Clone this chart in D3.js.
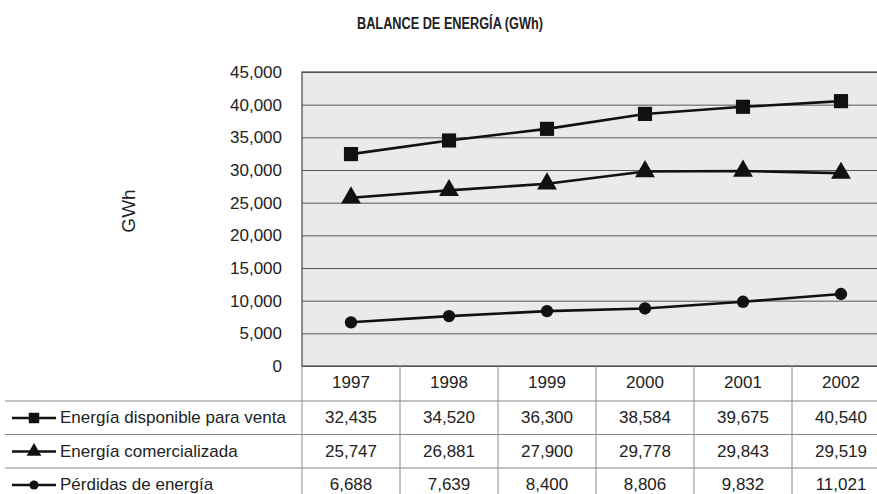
<!DOCTYPE html>
<html>
<head>
<meta charset="utf-8">
<script src="https://cdn.jsdelivr.net/npm/d3@7"></script>
<style>
  body { margin: 0; background: #fff; }
  svg text { font-family: "Liberation Sans", Arial, sans-serif; fill: #222; }
</style>
</head>
<body>
<div id="chart"></div>
<script>
var years = ["1997", "1998", "1999", "2000", "2001", "2002"];
var disponible = [32435, 34520, 36300, 38584, 39675, 40540];
var comercializada = [25747, 26881, 27900, 29778, 29843, 29519];
var perdidas = [6688, 7639, 8400, 8806, 9832, 11021];
var seriesNames = ["Energía disponible para venta", "Energía comercializada", "Pérdidas de energía"];
var yTicks = [0, 5000, 10000, 15000, 20000, 25000, 30000, 35000, 40000, 45000];

var width = 877, height = 494;
var margin = {left: 302, right: -13, top: 72, bottom: 128};
var rowH = 33.5;

var svg = d3.select("#chart")
    .append("svg")
    .attr("width", width)
    .attr("height", height);

var x = d3.scaleBand()
    .domain(years)
    .range([margin.left, width - margin.right])
    .padding(0);

var y = d3.scaleLinear()
    .domain([0, 45000])
    .range([height - margin.bottom, margin.top]);

var fmt = d3.format(",");

// plot background
svg.append("rect")
    .attr("x", margin.left)
    .attr("y", y(45000))
    .attr("width", x.range()[1] - margin.left)
    .attr("height", y(0) - y(45000))
    .attr("fill", "#eaeaea")
    .attr("stroke", "#444")
    .attr("stroke-width", 1.2);

// y axis with grid lines
var yAxis = svg.append("g")
    .attr("transform", "translate(" + margin.left + ",0)")
    .call(d3.axisLeft(y).tickValues(yTicks).tickFormat(fmt)
        .tickSize(-(x.range()[1] - margin.left)).tickPadding(20));

yAxis.select(".domain").remove();
yAxis.selectAll("line")
    .style("stroke", "#555")
    .style("stroke-width", 1);
yAxis.selectAll("text")
    .style("font-size", "17px")
    .style("font-family", "Liberation Sans, Arial, sans-serif")
    .style("fill", "#222");

// title
svg.append("text")
    .attr("x", 450)
    .attr("y", 29)
    .attr("text-anchor", "middle")
    .attr("textLength", 186)
    .attr("lengthAdjust", "spacingAndGlyphs")
    .style("font-size", "16px")
    .style("font-weight", "bold")
    .text("BALANCE DE ENERGÍA (GWh)");

// y label
svg.append("text")
    .attr("transform", "translate(135,211) rotate(-90)")
    .attr("text-anchor", "middle")
    .style("font-size", "19px")
    .text("GWh");

// lines
var line = d3.line()
    .x(function (d, i) { return x(years[i]) + x.bandwidth() / 2; })
    .y(function (d) { return y(d); });

var allSeries = [disponible, comercializada, perdidas];
var shapes = [d3.symbolSquare, d3.symbolTriangle, d3.symbolCircle];
var sizes = [200, 170, 120];

allSeries.forEach(function (s, k) {
    svg.append("path")
        .datum(s)
        .attr("d", line)
        .attr("fill", "none")
        .attr("stroke", "#111")
        .attr("stroke-width", 2.6);

    svg.selectAll(".m" + k)
        .data(s)
        .enter()
        .append("path")
        .attr("class", "m" + k)
        .attr("transform", function (d, i) {
            return "translate(" + (x(years[i]) + x.bandwidth() / 2) + "," + y(d) + ")";
        })
        .attr("d", d3.symbol().type(shapes[k]).size(sizes[k]))
        .attr("fill", "#111");
});

// data table
var tableTop = y(0);
var headerH = 35;
var tableColor = "#888";

// vertical separators
svg.selectAll(".vsep")
    .data(years.concat(["end"]))
    .enter()
    .append("line")
    .attr("x1", function (d, i) { return margin.left + i * x.bandwidth(); })
    .attr("x2", function (d, i) { return margin.left + i * x.bandwidth(); })
    .attr("y1", tableTop)
    .attr("y2", height)
    .attr("stroke", tableColor)
    .attr("stroke-width", 1);

// horizontal separators
[0, 1, 2].forEach(function (r) {
    svg.append("line")
        .attr("x1", 5)
        .attr("x2", width)
        .attr("y1", tableTop + headerH + r * rowH)
        .attr("y2", tableTop + headerH + r * rowH)
        .attr("stroke", tableColor)
        .attr("stroke-width", 1);
});

// year header
svg.selectAll(".yearLabel")
    .data(years)
    .enter()
    .append("text")
    .attr("x", function (d) { return x(d) + x.bandwidth() / 2; })
    .attr("y", tableTop + 22)
    .attr("text-anchor", "middle")
    .style("font-size", "17px")
    .text(function (d) { return d; });

// rows
allSeries.forEach(function (s, k) {
    var top = tableTop + headerH + k * rowH;
    var cy = top + 17;
    var base = top + 22;

    svg.append("line")
        .attr("x1", 12)
        .attr("x2", 56)
        .attr("y1", cy)
        .attr("y2", cy)
        .attr("stroke", "#111")
        .attr("stroke-width", 2.4);

    svg.append("path")
        .attr("transform", "translate(34," + cy + ")")
        .attr("d", d3.symbol().type(shapes[k]).size(sizes[k] * 0.55))
        .attr("fill", "#111");

    svg.append("text")
        .attr("x", 60)
        .attr("y", base)
        .style("font-size", "17px")
        .text(seriesNames[k]);

    svg.selectAll(".v" + k)
        .data(s)
        .enter()
        .append("text")
        .attr("x", function (d, i) { return x(years[i]) + x.bandwidth() / 2; })
        .attr("y", base)
        .attr("text-anchor", "middle")
        .style("font-size", "17px")
        .text(function (d) { return fmt(d); });
});
</script>
</body>
</html>
